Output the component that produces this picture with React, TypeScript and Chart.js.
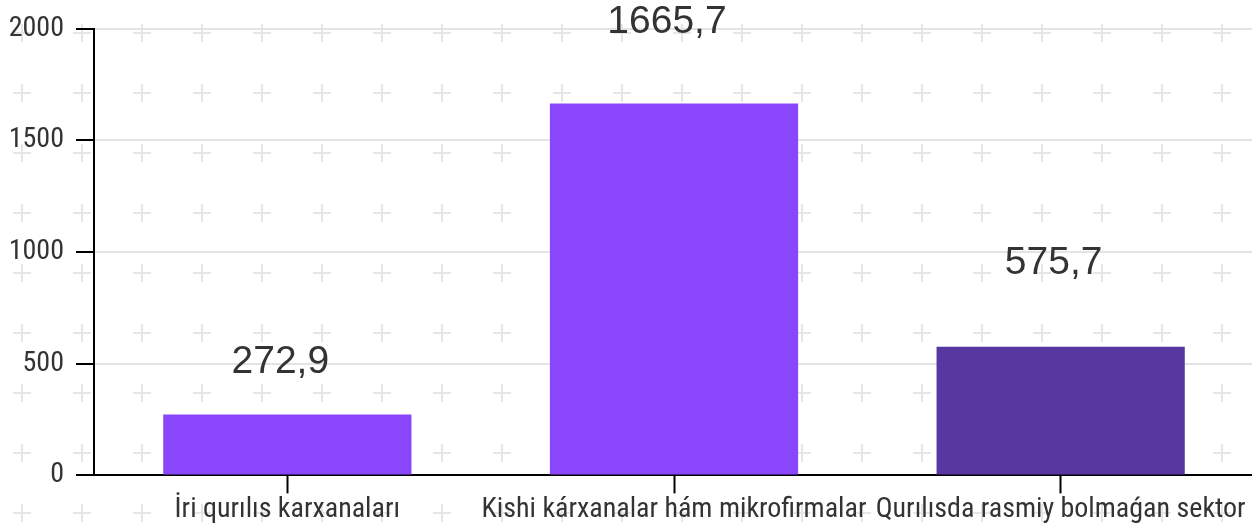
import React, { useEffect, useRef } from "react";
import { Chart, registerables } from "chart.js";

Chart.register(...registerables);

const categories = [
  "İri qurılıs karxanaları",
  "Kishi kárxanalar hám mikrofirmalar",
  "Qurılısda rasmiy bolmaǵan sektor",
];
const values = [272.9, 1665.7, 575.7];
const barColors = ["#8a46fb", "#8a46fb", "#5737a0"];
const labelOffsets = [52, 81, 84];
const yTicks = [0, 500, 1000, 1500, 2000];

const plusPattern = {
  id: "plusPattern",
  beforeDraw(chart: any) {
    const ctx = chart.ctx;
    ctx.save();
    ctx.strokeStyle = "#e6e6e6";
    ctx.lineWidth = 2;
    const half = 9;
    for (let x = 22; x < chart.width + 20; x += 60) {
      for (let y = 33; y < chart.height + 20; y += 60) {
        ctx.beginPath();
        ctx.moveTo(x - half, y);
        ctx.lineTo(x + half, y);
        ctx.moveTo(x, y - half);
        ctx.lineTo(x, y + half);
        ctx.stroke();
      }
    }
    ctx.restore();
  },
};

const valueLabels = {
  id: "valueLabels",
  afterDatasetsDraw(chart: any) {
    const ctx = chart.ctx;
    const meta = chart.getDatasetMeta(0);
    ctx.save();
    ctx.font = '39px "Liberation Sans", Arial, sans-serif';
    ctx.fillStyle = "#333333";
    ctx.textAlign = "center";
    ctx.textBaseline = "middle";
    meta.data.forEach((bar: any, i: number) => {
      const txt = values[i].toFixed(1).replace(".", ",");
      ctx.fillText(txt, bar.x - 7, bar.y - labelOffsets[i]);
    });
    ctx.restore();
  },
};

export default function App() {
  const ref = useRef<HTMLCanvasElement | null>(null);

  useEffect(() => {
    document.body.style.margin = "0";
    document.body.style.overflow = "hidden";
    document.documentElement.style.overflow = "hidden";
    const axisFont = { family: '"Liberation Sans Narrow", "Roboto Condensed", Roboto, sans-serif', size: 28 };
    const chart = new Chart(ref.current!, {
      type: "bar",
      data: {
        labels: categories,
        datasets: [
          {
            data: values,
            backgroundColor: barColors,
            borderWidth: 0,
            categoryPercentage: 1,
            barPercentage: 0.642,
          },
        ],
      },
      options: {
        animation: false,
        responsive: true,
        maintainAspectRatio: false,
        layout: { padding: { left: 10, right: 0, top: 27, bottom: 0 } },
        plugins: { legend: { display: false }, tooltip: { enabled: false } },
        scales: {
          x: {
            grid: {
              display: true,
              drawOnChartArea: false,
              drawTicks: true,
              tickLength: 18,
              tickColor: "#000",
              tickWidth: 2,
              offset: false,
            },
            border: { display: true, color: "#000", width: 2 },
            ticks: { color: "#333", font: axisFont, padding: 0, maxRotation: 0, autoSkip: false },
          },
          y: {
            min: 0,
            max: 2000,
            afterBuildTicks: (scale: any) => {
              scale.ticks = yTicks.map((v) => ({ value: v }));
            },
            afterFit: (scale: any) => {
              scale.width = 84;
            },
            grid: {
              color: "#e3e3e3",
              lineWidth: 2,
              tickLength: 18,
              tickColor: "#000",
              tickWidth: 2,
            },
            border: { display: true, color: "#000", width: 2 },
            ticks: { color: "#333", font: axisFont, padding: 12, callback: (v: any) => String(v) },
          },
        },
      },
      plugins: [plusPattern, valueLabels],
    });
    return () => chart.destroy();
  }, []);

  return (
    <div style={{ position: "relative", width: "1254px", height: "527px" }}>
      <canvas ref={ref} />
    </div>
  );
}
